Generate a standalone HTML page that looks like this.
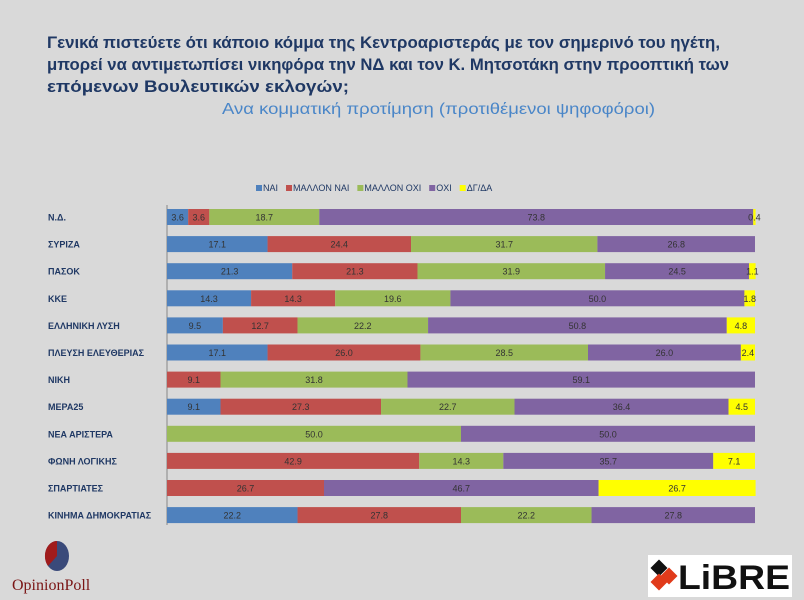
<!DOCTYPE html>
<html><head><meta charset="utf-8"><style>
body{margin:0;background:#d9d9d9;}
svg{display:block;font-family:"Liberation Sans","DejaVu Sans",sans-serif;}
</style></head><body>
<svg width="804" height="600" viewBox="0 0 804 600" xmlns="http://www.w3.org/2000/svg">
<rect width="804" height="600" fill="#d9d9d9"/>
<g fill="#1f3864" font-weight="bold" font-size="17">
<text x="47" y="48" textLength="673" lengthAdjust="spacingAndGlyphs">Γενικά πιστεύετε ότι κάποιο κόμμα της Κεντροαριστεράς με τον σημερινό του ηγέτη,</text>
<text x="47" y="70" textLength="682" lengthAdjust="spacingAndGlyphs">μπορεί να αντιμετωπίσει νικηφόρα την ΝΔ και τον Κ. Μητσοτάκη στην προοπτική των</text>
<text x="47" y="92" textLength="302" lengthAdjust="spacingAndGlyphs">επόμενων Βουλευτικών εκλογών;</text>
</g>
<text x="222" y="114" fill="#4a86c8" font-size="16" textLength="433" lengthAdjust="spacingAndGlyphs">Ανα κομματική προτίμηση (προτιθέμενοι ψηφοφόροι)</text>
<g id="legend"></g>
<line x1="167" y1="205" x2="167" y2="525" stroke="#888" stroke-width="1"/>
<g id="bars"></g>
<g>
<ellipse cx="57" cy="556" rx="12" ry="15" fill="#3a4a7a"/>
<path d="M57,541 A12,15 0 0 0 48,566 L57,556 Z" fill="#a01c1c"/>
<text x="12" y="590" font-family="Liberation Serif,serif" font-size="16" fill="#7a1515">OpinionPoll</text>
</g>
<g>
<rect x="648" y="555" width="144" height="42" fill="#fff"/>
<rect x="653" y="562" width="12" height="12" fill="#111" transform="rotate(45 659 568)"/>
<rect x="663" y="570" width="12" height="12" fill="#e03a1a" transform="rotate(45 669 576)"/>
<rect x="653" y="576" width="12" height="12" fill="#e03a1a" transform="rotate(45 659 582)"/>
<text x="678" y="589" font-size="34" font-weight="bold" fill="#111" textLength="112" lengthAdjust="spacingAndGlyphs">LiBRE</text>
</g>
</svg>
<script>
const categories=["Ν.Δ.","ΣΥΡΙΖΑ","ΠΑΣΟΚ","ΚΚΕ","ΕΛΛΗΝΙΚΗ ΛΥΣΗ","ΠΛΕΥΣΗ ΕΛΕΥΘΕΡΙΑΣ","ΝΙΚΗ","ΜΕΡΑ25","ΝΕΑ ΑΡΙΣΤΕΡΑ","ΦΩΝΗ ΛΟΓΙΚΗΣ","ΣΠΑΡΤΙΑΤΕΣ","ΚΙΝΗΜΑ ΔΗΜΟΚΡΑΤΙΑΣ"];
const seriesNames=["ΝΑΙ","ΜΑΛΛΟΝ ΝΑΙ","ΜΑΛΛΟΝ ΟΧΙ","ΟΧΙ","ΔΓ/ΔΑ"];
const nai=[3.6,17.1,21.3,14.3,9.5,17.1,0,9.1,0,0,0,22.2];
const mallonNai=[3.6,24.4,21.3,14.3,12.7,26.0,9.1,27.3,0,42.9,26.7,27.8];
const mallonOxi=[18.7,31.7,31.9,19.6,22.2,28.5,31.8,22.7,50.0,14.3,0,22.2];
const oxi=[73.8,26.8,24.5,50.0,50.8,26.0,59.1,36.4,50.0,35.7,46.7,27.8];
const dgda=[0.4,0,1.1,1.8,4.8,2.4,0,4.5,0,7.1,26.7,0];
const colors=["#4f81bd","#c0504d","#9bbb59","#8064a2","#ffff00"];
const NS="http://www.w3.org/2000/svg";
const x0=167,plotW=588;
const xScale=v=>v/100*plotW;
const yScale=i=>217+i*27.1;
const barH=16;
function mk(tag,attrs,parent){const e=document.createElementNS(NS,tag);for(const k in attrs)e.setAttribute(k,attrs[k]);parent.appendChild(e);return e;}
const series=[nai,mallonNai,mallonOxi,oxi,dgda];
const bars=document.getElementById('bars');
categories.forEach((c,i)=>{
  const cy=yScale(i);
  const lab=mk('text',{x:48,y:cy+3.5,'font-size':9,'font-weight':'bold',fill:'#1f3864'},bars);
  
  
  lab.textContent=c;
  let x=x0;
  series.forEach((s,j)=>{
    const v=s[i];if(!v)return;
    const w=xScale(v);
    const r=mk('rect',{x:x,y:cy-barH/2,width:w,height:barH,fill:colors[j]},bars);
    
    
    const t=mk('text',{x:x+w/2,y:cy+3.5,'font-size':9,'text-anchor':'middle',fill:'#333'},bars);
    
    
    t.textContent=v.toFixed(1);
    x+=w;
  });
});
const lg=document.getElementById('legend');
let lx=256;
seriesNames.forEach((n,j)=>{
  const r=mk('rect',{x:lx,y:185,width:6,height:6,fill:colors[j]},lg);
  
  
  const t=mk('text',{x:lx+7,y:191,'font-size':9,fill:'#1f3864'},lg);
  
  
  t.textContent=n;
  lx+=7+t.getComputedTextLength()+8;
});
</script>
</body></html>
